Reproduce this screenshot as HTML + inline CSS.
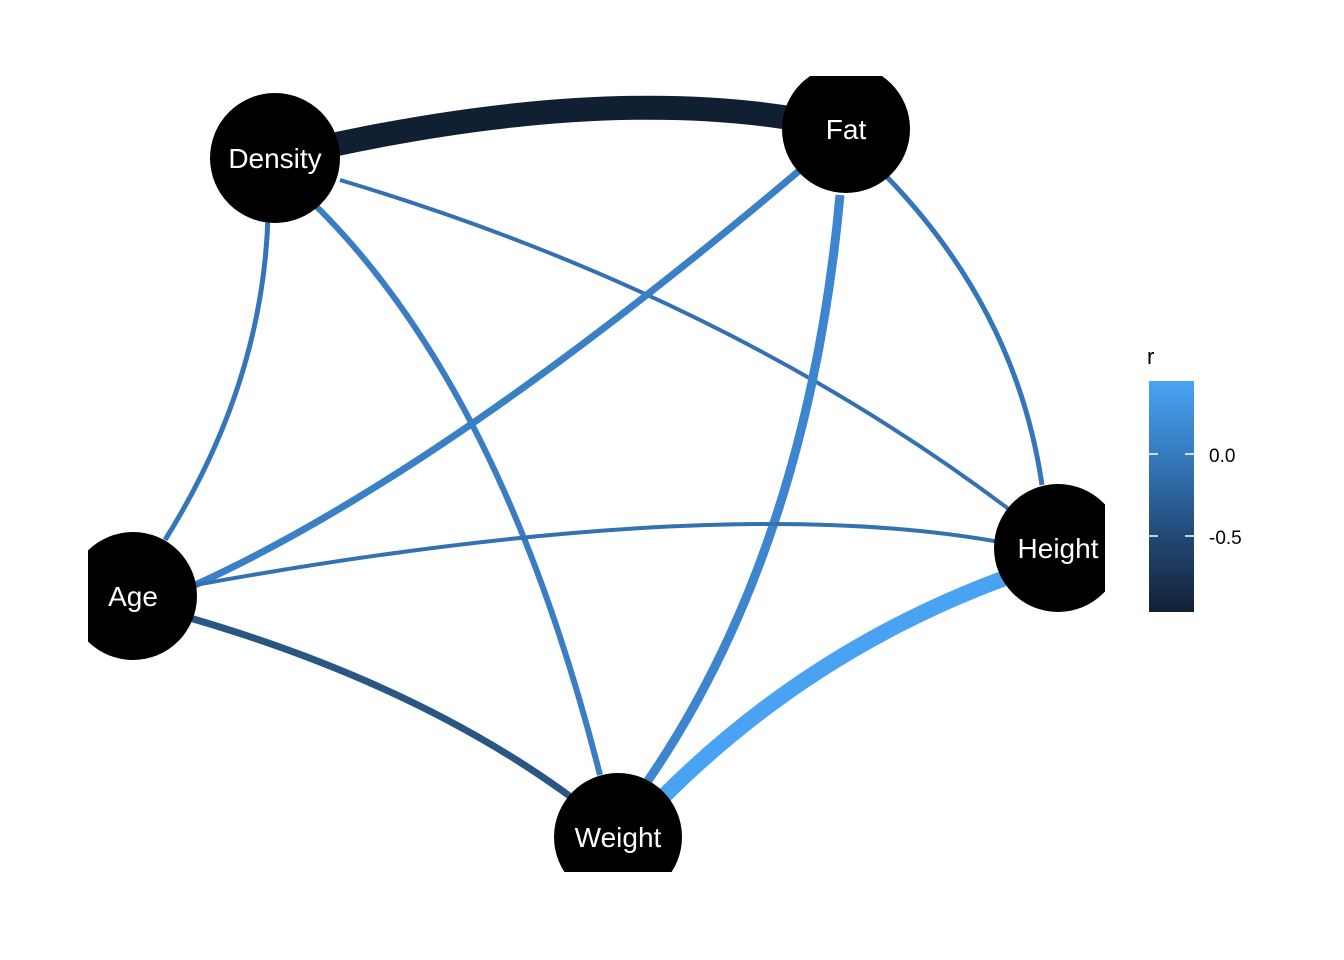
<!DOCTYPE html>
<html><head><meta charset="utf-8"><style>
html,body{margin:0;padding:0;background:#fff;width:1344px;height:960px;overflow:hidden}
svg{display:block}
text{font-family:"Liberation Sans",Arial,sans-serif}
</style></head><body>
<svg width="1344" height="960" viewBox="0 0 1344 960">
<defs>
<clipPath id="c"><rect x="88" y="76" width="1017" height="796"/></clipPath>
<linearGradient id="g" x1="0" y1="0" x2="0" y2="1">
<stop offset="0" stop-color="#4aa3f5"/>
<stop offset="0.35" stop-color="#3476b8"/>
<stop offset="0.7" stop-color="#214570"/>
<stop offset="1" stop-color="#132033"/>
</linearGradient>
</defs>
<g clip-path="url(#c)" fill="none" stroke-linecap="butt">
<path d="M268,215 Q263.5,382.5 165,540" stroke="#3576bb" stroke-width="5"/>
<path d="M315,205 Q502.5,390 600,775" stroke="#3a7dc2" stroke-width="6"/>
<path d="M340,180 Q725,295 1010,510" stroke="#3371b3" stroke-width="4"/>
<path d="M800,170 Q442.5,472.5 195,585" stroke="#3a80c6" stroke-width="7"/>
<path d="M840,195 Q807.5,550 645,785" stroke="#3d86cf" stroke-width="9"/>
<path d="M885,175 Q1016.5,310 1042,485" stroke="#3576bb" stroke-width="5"/>
<path d="M195,585 Q720,490 1005,543" stroke="#3371b3" stroke-width="4"/>
<path d="M190,618 Q420,685 575,800" stroke="#2a5684" stroke-width="7"/>
<path d="M1005,578 Q807.5,651 660,800" stroke="#4aa2f3" stroke-width="16"/>
<path d="M275,158 Q620,75 846,129" stroke="#111f33" stroke-width="24"/>
<g fill="#000" stroke="none">
<circle cx="275" cy="158" r="65"/>
<circle cx="846" cy="129" r="64"/>
<circle cx="1058" cy="548" r="64"/>
<circle cx="133" cy="596" r="64"/>
<circle cx="618" cy="837" r="64"/>
</g>
<g fill="#fff" stroke="none" font-size="28" text-anchor="middle">
<text x="275" y="168">Density</text>
<text x="846" y="139">Fat</text>
<text x="1058" y="558">Height</text>
<text x="133" y="606">Age</text>
<text x="618" y="847">Weight</text>
</g>
</g>
<text x="1147" y="364" font-size="22" fill="#000">r</text>
<rect x="1149" y="381" width="45" height="231" fill="url(#g)"/>
<g stroke="#fff" stroke-width="1.5">
<line x1="1149" y1="454" x2="1158" y2="454"/><line x1="1185" y1="454" x2="1194" y2="454"/>
<line x1="1149" y1="536" x2="1158" y2="536"/><line x1="1185" y1="536" x2="1194" y2="536"/>
</g>
<text x="1209" y="462" font-size="19" fill="#000">0.0</text>
<text x="1209" y="544" font-size="19" fill="#000">-0.5</text>
</svg>
</body></html>
